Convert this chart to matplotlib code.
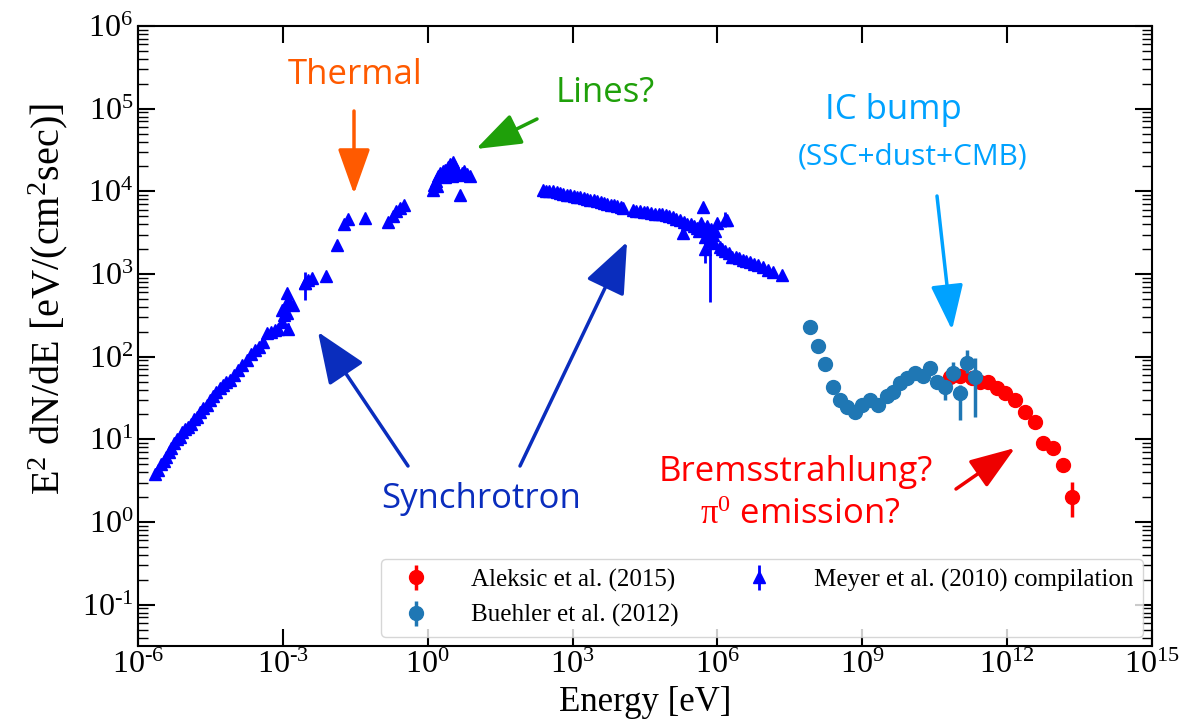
import numpy as np
import matplotlib.pyplot as plt

plt.rcParams['font.family'] = 'serif'
plt.rcParams['font.serif'] = ['Liberation Serif']
plt.rcParams['mathtext.fontset'] = 'custom'
plt.rcParams['mathtext.rm'] = 'Liberation Serif'
plt.rcParams['mathtext.it'] = 'Liberation Serif:italic'
plt.rcParams['mathtext.bf'] = 'Liberation Serif:bold'
plt.rcParams['axes.unicode_minus'] = False

# values, as log10(E / eV) and log10(E^2 dN/dE)
meyer_log_e = [-5.65, -5.58, -5.52, -5.47, -5.42, -5.36, -5.31, -5.25, -5.20, -5.14,
               -5.08, -5.02, -4.96, -4.90, -4.84, -4.78, -4.71, -4.65, -4.58, -4.50,
               -4.44, -4.38, -4.31, -4.24, -4.18, -4.10, -4.02, -3.93, -3.85, -3.75,
               -3.66, -3.58, -3.50, -3.41, -3.33, -3.25, -3.17, -3.10, -3.02, -2.97,
               -3.02, -2.92, -2.92, -2.85, -2.79, -2.92, -2.54, -2.47, -2.40, -2.11,
               -1.88, -1.73, -1.66, -1.30, -0.82, -0.72, -0.65, -0.58, -0.50,
               0.10, 0.14, 0.18, 0.22, 0.26, 0.31, 0.36, 0.42, 0.47, 0.52,
               0.56, 0.60, 0.64, 0.70, 0.76, 0.82, 0.87, 0.66, 0.20, 0.35, 0.50,
               2.38, 2.45, 2.52, 2.60, 2.67, 2.74, 2.81, 2.88, 2.95, 3.02,
               3.09, 3.16, 3.23, 3.30, 3.37, 3.44, 3.51, 3.58, 3.65, 3.72,
               3.79, 3.86, 3.93, 4.00, 4.04,
               4.25, 4.32, 4.40, 4.47, 4.55, 4.62, 4.70, 4.78, 4.85, 4.93,
               5.00, 5.08, 5.15, 5.22, 5.30, 5.38, 5.45, 5.52, 5.58,
               5.62, 5.66, 5.70, 5.72, 5.75, 5.78, 5.80, 5.84, 5.87, 5.90,
               5.93, 5.96, 6.00, 6.05, 6.10, 6.15, 6.19, 6.24, 6.30,
               6.38, 6.45, 6.52, 6.60, 6.68, 6.76, 6.85, 6.95, 7.05, 7.15, 7.33]
meyer_log_f = [0.58, 0.63, 0.70, 0.74, 0.79, 0.85, 0.89, 0.95, 1.00, 1.03,
               1.09, 1.12, 1.15, 1.19, 1.24, 1.27, 1.33, 1.38, 1.42, 1.48,
               1.53, 1.57, 1.62, 1.66, 1.69, 1.72, 1.78, 1.84, 1.90, 1.96,
               2.03, 2.08, 2.12, 2.18, 2.29, 2.30, 2.32, 2.34, 2.42, 2.50,
               2.56, 2.53, 2.66, 2.64, 2.62, 2.77, 2.89, 2.93, 2.95, 2.97,
               3.35, 3.61, 3.67, 3.68, 3.63, 3.70, 3.76, 3.80, 3.83,
               4.02, 4.08, 4.13, 4.18, 4.22, 4.24, 4.26, 4.30, 4.33, 4.35,
               4.30, 4.24, 4.20, 4.22, 4.24, 4.21, 4.19, 3.95, 4.06, 4.17, 4.18,
               4.02, 4.01, 4.00, 4.00, 3.99, 3.98, 3.97, 3.96, 3.95, 3.94,
               3.93, 3.93, 3.92, 3.91, 3.90, 3.89, 3.88, 3.87, 3.86, 3.85,
               3.84, 3.83, 3.82, 3.81, 3.80,
               3.77, 3.76, 3.76, 3.75, 3.75, 3.74, 3.73, 3.73, 3.72, 3.71,
               3.70, 3.69, 3.67, 3.65, 3.63, 3.61, 3.60, 3.58, 3.56,
               3.52, 3.62, 3.81, 3.55, 3.45, 3.58, 3.50, 3.40, 3.55, 3.47,
               3.38, 3.52, 3.62, 3.33, 3.30, 3.28, 3.65, 3.25, 3.21,
               3.20, 3.19, 3.17, 3.16, 3.14, 3.12, 3.11, 3.08, 3.05, 3.03, 2.99]

meyer_bar_log_e = [-2.89, -2.54, 5.28, 5.74, 5.84, 6.15]
meyer_bar_log_f = [2.33, 2.89, 3.50, 3.30, 3.40, 3.65]
meyer_bar_log_lo = [2.26, 2.69, 3.44, 3.13, 2.66, 3.57]
meyer_bar_log_hi = [2.41, 3.03, 3.55, 3.41, 3.55, 3.75]

buehler_log_e = [7.91, 8.08, 8.22, 8.39, 8.53, 8.68, 8.84, 8.99, 9.16, 9.32,
                 9.51, 9.63, 9.78, 9.92, 10.09, 10.25, 10.40, 10.54, 10.71, 10.87,
                 11.02, 11.16, 11.33]
buehler_log_f = [2.36, 2.13, 1.91, 1.63, 1.48, 1.39, 1.33, 1.41, 1.47, 1.42,
                 1.52, 1.57, 1.68, 1.74, 1.80, 1.77, 1.86, 1.69, 1.63, 1.80,
                 1.56, 1.92, 1.75]
buehler_log_lo = [2.36, 2.13, 1.91, 1.63, 1.48, 1.39, 1.33, 1.41, 1.47, 1.42,
                  1.52, 1.57, 1.68, 1.74, 1.80, 1.77, 1.86, 1.64, 1.48, 1.70,
                  1.23, 1.80, 1.27]
buehler_log_hi = [2.36, 2.13, 1.91, 1.63, 1.48, 1.39, 1.33, 1.41, 1.47, 1.42,
                  1.52, 1.57, 1.68, 1.74, 1.80, 1.77, 1.86, 1.74, 1.70, 1.93,
                  1.66, 2.08, 1.98]

aleksic_log_e = [10.81, 11.02, 11.27, 11.43, 11.60, 11.78, 11.95, 12.16, 12.36, 12.57,
                 12.74, 12.94, 13.15, 13.34]
aleksic_log_f = [1.75, 1.77, 1.74, 1.69, 1.69, 1.62, 1.56, 1.47, 1.33, 1.21,
                 0.95, 0.89, 0.69, 0.30]
aleksic_log_lo = [1.73, 1.75, 1.72, 1.67, 1.67, 1.60, 1.54, 1.45, 1.31, 1.19,
                  0.93, 0.87, 0.66, 0.06]
aleksic_log_hi = [1.77, 1.79, 1.76, 1.71, 1.71, 1.64, 1.58, 1.49, 1.35, 1.23,
                  0.97, 0.91, 0.72, 0.48]

W, H = 1192, 728


def to_lin(e, f, lo=None, hi=None):
    e = 10 ** np.array(e)
    f = 10 ** np.array(f)
    if lo is None:
        return e, f
    err = [f - 10 ** np.array(lo), 10 ** np.array(hi) - f]
    return e, f, err


def px(x, y):
    # pixel position measured from the top left -> figure fraction
    return (x / W, 1 - y / H)


def pow_label(v, pos):
    n = int(round(np.log10(v)))
    if n < 0:
        return r'$10^{\text{-}%d}$' % -n
    return r'$10^{%d}$' % n


fig = plt.figure(figsize=(W / 100, H / 100), dpi=100)
ax = fig.add_axes([138 / W, 82 / H, 1014 / W, 620 / H])

e, f, err = to_lin(aleksic_log_e, aleksic_log_f, aleksic_log_lo, aleksic_log_hi)
ax.errorbar(e, f, yerr=err, fmt='o', color='red', ms=10, elinewidth=2.5,
            label='Aleksic et al. (2015)', zorder=3)

e, f, err = to_lin(buehler_log_e, buehler_log_f, buehler_log_lo, buehler_log_hi)
ax.errorbar(e, f, yerr=err, fmt='o', color='#1f77b4', ms=10, elinewidth=2.5,
            label='Buehler et al. (2012)', zorder=4)

e, f = to_lin(meyer_log_e, meyer_log_f)
ax.plot(e, f, '^', color='blue', ms=9, zorder=5)
e, f, err = to_lin(meyer_bar_log_e, meyer_bar_log_f, meyer_bar_log_lo, meyer_bar_log_hi)
ax.errorbar(e, f, yerr=err, fmt='^', color='blue', ms=9, elinewidth=2,
            label='Meyer et al. (2010) compilation', zorder=5)

ax.set_xscale('log')
ax.set_yscale('log')
ax.set_xlim(1e-6, 1e15)
ax.set_ylim(10 ** -1.5, 1e6)
ax.xaxis.set_major_locator(plt.FixedLocator(10.0 ** np.arange(-6, 16, 3)))
ax.xaxis.set_minor_locator(plt.NullLocator())
ax.yaxis.set_major_locator(plt.LogLocator(base=10, numticks=20))
ax.yaxis.set_minor_locator(plt.LogLocator(base=10, subs=np.arange(2, 10), numticks=20))
ax.xaxis.set_major_formatter(plt.FuncFormatter(pow_label))
ax.yaxis.set_major_formatter(plt.FuncFormatter(pow_label))
ax.tick_params(which='both', direction='in', top=True, right=True, labelsize=23)
ax.tick_params(which='major', length=12, width=1.5)
ax.tick_params(which='minor', length=7, width=1)
for s in ax.spines.values():
    s.set_linewidth(1.5)

ax.set_xlabel('Energy [eV]', fontsize=25, labelpad=4)
ax.set_ylabel(r'E$^2$ dN/dE [eV/(cm$^2$sec)]', fontsize=29)
ax.yaxis.set_label_coords(-0.067, 0.56)

ax.legend(loc='lower right', ncol=2, fontsize=18, frameon=True, fancybox=True,
          borderaxespad=0.35, columnspacing=2.2, handletextpad=1.2)

sans = ['Open Sans', 'DejaVu Sans']


def label(x, y, s, color, size):
    fig.text(*px(x, y), s, color=color, fontsize=size, family=sans,
             ha='center', va='center')


def arrow(x0, y0, x1, y1, color, big=False):
    head = 'head_length=1.6,head_width=0.65' if big else 'head_length=1.4,head_width=0.5'
    ax.annotate('', xy=px(x1, y1), xycoords='figure fraction',
                xytext=px(x0, y0), textcoords='figure fraction',
                arrowprops=dict(arrowstyle='-|>,' + head,
                                lw=2.5, color=color, mutation_scale=20,
                                shrinkA=0, shrinkB=0))


label(355, 75, 'Thermal', '#ff5a00', 25)
arrow(354, 111, 354, 194, '#ff5a00')
label(605, 93, 'Lines?', '#1fa00a', 25)
arrow(537, 119, 476, 149, '#1fa00a')
label(893, 110, 'IC bump', '#00a2ff', 25)
label(913, 157, '(SSC+dust+CMB)', '#00a2ff', 21.5)
arrow(937, 196, 952, 330, '#00a2ff')
label(481, 499, 'Synchrotron', '#0a2dbd', 25)
arrow(408, 466, 318, 332, '#0a2dbd', big=True)
arrow(520, 466, 627, 242, '#0a2dbd', big=True)
label(796, 472, 'Bremsstrahlung?', '#ff0000', 25)
label(800, 515, r'$\mathrm{\pi^0}$ emission?', '#ff0000', 25)
arrow(956, 489, 1015, 448, '#ee0000')

fig.savefig('out.png', dpi=100)
